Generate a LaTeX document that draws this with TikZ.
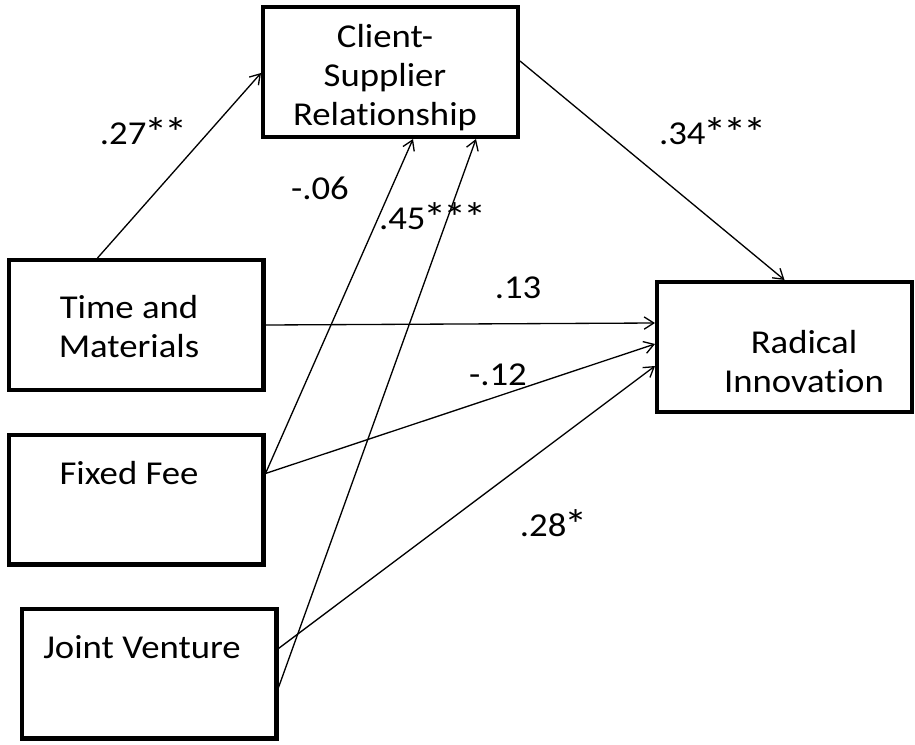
\documentclass[tikz,border=0pt]{standalone}
\usepackage{fontspec}
\setmainfont{Carlito}[FakeStretch=1.1,Ligatures=NoCommon]
\usetikzlibrary{calc,arrows.meta}
\newcommand{\sig}{\kern-0.05em\raisebox{-0.09em}{\fontsize{24}{24}\selectfont*}\kern-0.05em}
\tikzset{
  box/.style={draw, line width=2.3pt, minimum width=5.1cm, minimum height=2.6cm, inner sep=0pt},
  boxtext/.style={align=center, inner sep=0pt, font=\fontsize{19}{22.2}\selectfont},
  coef/.style={inner sep=0pt, font=\fontsize{19}{22.2}\selectfont},
  link/.style={line width=0.75pt, -{Straight Barb[length=5.5pt,width=7pt]}}
}

\begin{document}
\begin{tikzpicture}[x=0.02cm,y=-0.02cm]
  \useasboundingbox (0,0) rectangle (915,744);

  % Boxes
  \node[box] (csr) at (390.5,72) {};
  \node[box] (ri) at (784.5,347) {};
  \node[box] (tm) at (136,325) {};
  \node[box] (ff) at (136,499.5) {};
  \node[box] (jv) at (149,673.5) {};

  \node[boxtext] (csrtext) at (385,78) {Client-\\Supplier\\Relationship};
  \node[boxtext] (ritext) at (804,362) {Radical\\Innovation};
  \node[boxtext] (tmtext) at (129,327) {Time and\\Materials};
  \node[boxtext] (fftext) at (129,473) {Fixed Fee};
  \node[boxtext] (jvtext) at (142,647) {Joint Venture};

  % Paths
  \draw[link] ($(tm.north west)+(91,0)$) -- ($(csr.north west)+(0,68)$);
  \draw[link] ($(csr.north east)+(0,56)$) -- (ri.north);
  \draw[link] (tm.east) -- ($(ri.north west)+(0,43)$);
  \draw[link] ($(ff.north east)+(0,41)$) -- ($(ri.north west)+(0,64)$);
  \draw[link] ($(ff.north east)+(0,41)$) -- ($(csr.south west)+(152,0)$);
  \draw[link] ($(jv.north east)+(0,42)$) -- ($(ri.north west)+(0,86)$);
  \draw[link] ($(jv.north east)+(0,81)$) -- ($(csr.south west)+(215,0)$);

  % Coefficients
  \node[coef] (c1) at (143,133) {.27\sig\sig};
  \node[coef] (c2) at (712,133) {.34\sig\sig\sig};
  \node[coef] (c3) at (320,188) {-.06};
  \node[coef] (c4) at (432,218) {.45\sig\sig\sig};
  \node[coef] (c5) at (518,288) {.13};
  \node[coef] (c6) at (498,375) {-.12};
  \node[coef] (c7) at (553,525) {.28\sig};
\end{tikzpicture}
\end{document}
